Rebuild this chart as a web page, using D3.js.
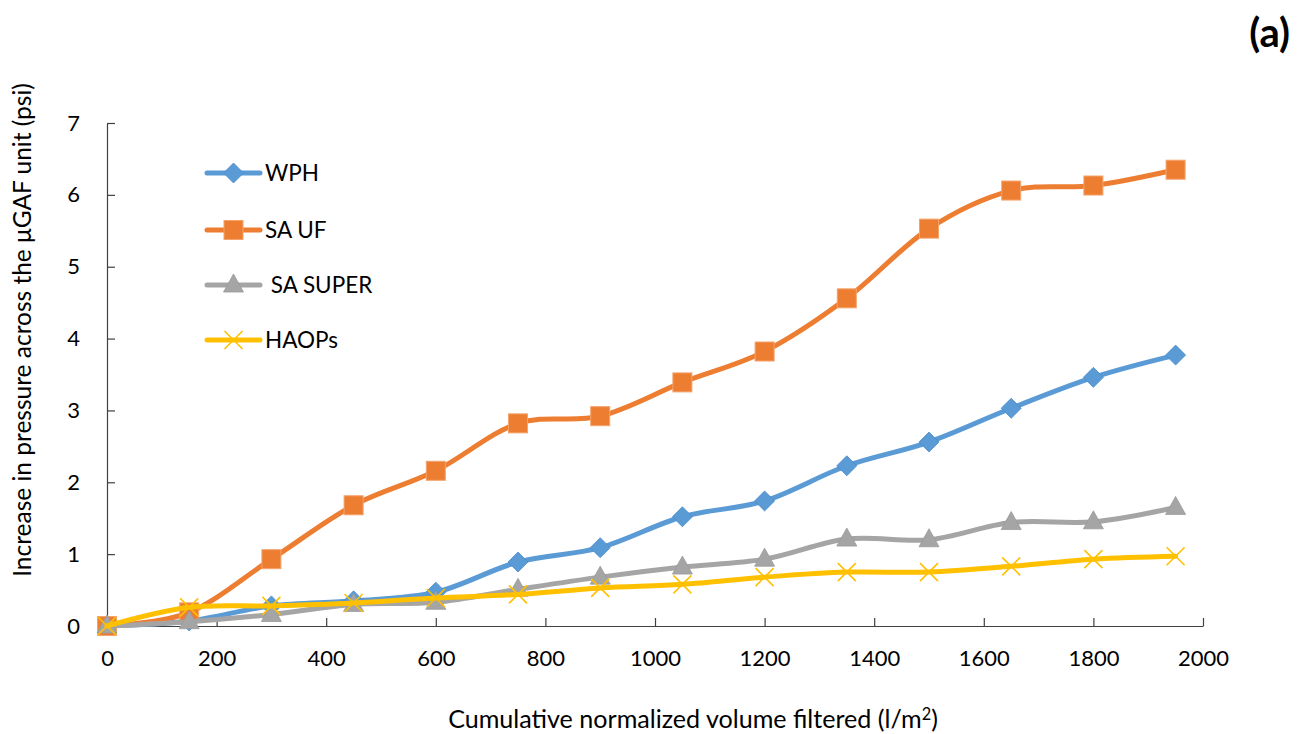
<!DOCTYPE html>
<html><head><meta charset="utf-8">
<script src="https://cdn.jsdelivr.net/npm/d3@7"></script>
<style>
html,body{margin:0;padding:0;background:#fff;}
svg{display:block;font-family:Lato, "Open Sans", sans-serif;}
</style></head>
<body><svg id="c" width="1308" height="734"></svg>
<script>
const volumes = [0,150,300,450,600,750,900,1050,1200,1350,1500,1650,1800,1950];
const wph     = [0,0.07,0.28,0.35,0.47,0.89,1.09,1.52,1.74,2.23,2.56,3.03,3.46,3.77];
const saUF    = [0,0.19,0.93,1.68,2.16,2.82,2.92,3.39,3.82,4.56,5.53,6.06,6.13,6.35];
const saSuper = [0,0.06,0.16,0.30,0.33,0.51,0.68,0.82,0.93,1.21,1.20,1.44,1.45,1.65];
const haops   = [0,0.26,0.28,0.32,0.39,0.44,0.53,0.58,0.68,0.75,0.75,0.83,0.93,0.97];
const seriesNames = ["WPH","SA UF"," SA SUPER","HAOPs"];
const xTicks = [0,200,400,600,800,1000,1200,1400,1600,1800,2000];
const yTicks = [0,1,2,3,4,5,6,7];
const xTitle = "Cumulative normalized volume filtered (l/m";
const yTitle = "Increase in pressure across the \u03BCGAF unit (psi)";
const panelLabel = "(a)";

const colors = ["#5B9BD5","#ED7D31","#A5A5A5","#FFC000"];
const markers = ["diamond","square","triangle","cross"];
const seriesValues = [wph, saUF, saSuper, haops];

const svg = d3.select("#c");
const x = d3.scaleLinear().domain([0,2000]).range([107,1203]);
const y = d3.scaleLinear().domain([0,7]).range([626,123]);

// axes
const gx = svg.append("g").attr("transform","translate(0,626)")
  .call(d3.axisBottom(x).tickValues(xTicks).tickFormat(d3.format("d")).tickSize(-8).tickSizeOuter(0).tickPadding(24));
const gy = svg.append("g").attr("transform","translate(107,0)")
  .call(d3.axisLeft(y).tickValues(yTicks).tickFormat(d3.format("d")).tickSize(-8).tickSizeOuter(0).tickPadding(27));
[gx,gy].forEach(g=>{
  g.selectAll("path,line").attr("stroke","#404040").attr("stroke-width",1.2);
  g.selectAll("text").attr("font-size",22).attr("fill","#000").attr("font-family","Lato");
});

function drawMarker(g, type, cx, cy, color){
  if(type==="diamond"){
    g.append("path").attr("d",`M${cx},${cy-10}L${cx+10},${cy}L${cx},${cy+10}L${cx-10},${cy}Z`)
      .attr("fill",color).attr("stroke","#4a8bc9").attr("stroke-width",0.8);
  } else if(type==="square"){
    g.append("rect").attr("x",cx-9.5).attr("y",cy-9.5).attr("width",19).attr("height",19)
      .attr("fill",color).attr("stroke","#F4A36B").attr("stroke-width",1);
  } else if(type==="triangle"){
    g.append("path").attr("d",`M${cx},${cy-11}L${cx+10},${cy+7}L${cx-10},${cy+7}Z`)
      .attr("fill",color).attr("stroke","#9a9a9a").attr("stroke-width",0.8);
  } else {
    g.append("path").attr("d",`M${cx-9},${cy-9}L${cx+9},${cy+9}M${cx-9},${cy+9}L${cx+9},${cy-9}`)
      .attr("stroke",color).attr("stroke-width",1.6).attr("fill","none");
  }
}

const line = d3.line().x(d=>x(d[0])).y(d=>y(d[1])).curve(d3.curveCardinal.tension(0));
seriesValues.forEach((vals,i)=>{
  const g = svg.append("g");
  const pts = volumes.map((v,j)=>[v,vals[j]]);
  g.append("path").datum(pts).attr("d",line).attr("fill","none")
    .attr("stroke",colors[i]).attr("stroke-width",5).attr("stroke-linecap","round");
  pts.forEach(p=>drawMarker(g, markers[i], x(p[0]), y(p[1]), colors[i]));
});

// legend
const legY = [173,230,285,340];
seriesNames.forEach((name,i)=>{
  const g = svg.append("g");
  g.append("line").attr("x1",207).attr("x2",260).attr("y1",legY[i]).attr("y2",legY[i])
    .attr("stroke",colors[i]).attr("stroke-width",5).attr("stroke-linecap","round");
  drawMarker(g, markers[i], 233.5, legY[i], colors[i]);
  g.append("text").attr("x",265).attr("y",legY[i]).attr("dy","0.36em")
    .attr("font-size",22.5).attr("fill","#000").style("white-space","pre").attr("xml:space","preserve").text(name);
});

// titles
function fit(t, w){
  const L = t.node().getComputedTextLength();
  const fs = parseFloat(t.attr("font-size"));
  t.attr("font-size", fs*w/L);
}
const xt = svg.append("text").attr("x",693).attr("y",728).attr("text-anchor","middle")
  .attr("font-size",22).attr("fill","#000");
xt.append("tspan").text(xTitle);
xt.append("tspan").attr("dy",-8).attr("font-size","0.65em").text("2");
xt.append("tspan").attr("dy",8).text(")");
fit(xt, 490);

const yt = svg.append("text").attr("transform","translate(31,330) rotate(-90)")
  .attr("text-anchor","middle").attr("font-size",22).attr("fill","#000").text(yTitle);
fit(yt, 494);

svg.append("text").attr("x",1290).attr("y",47).attr("text-anchor","end")
  .attr("font-size",40).attr("font-weight","bold").attr("fill","#000").text(panelLabel);
</script></body></html>
